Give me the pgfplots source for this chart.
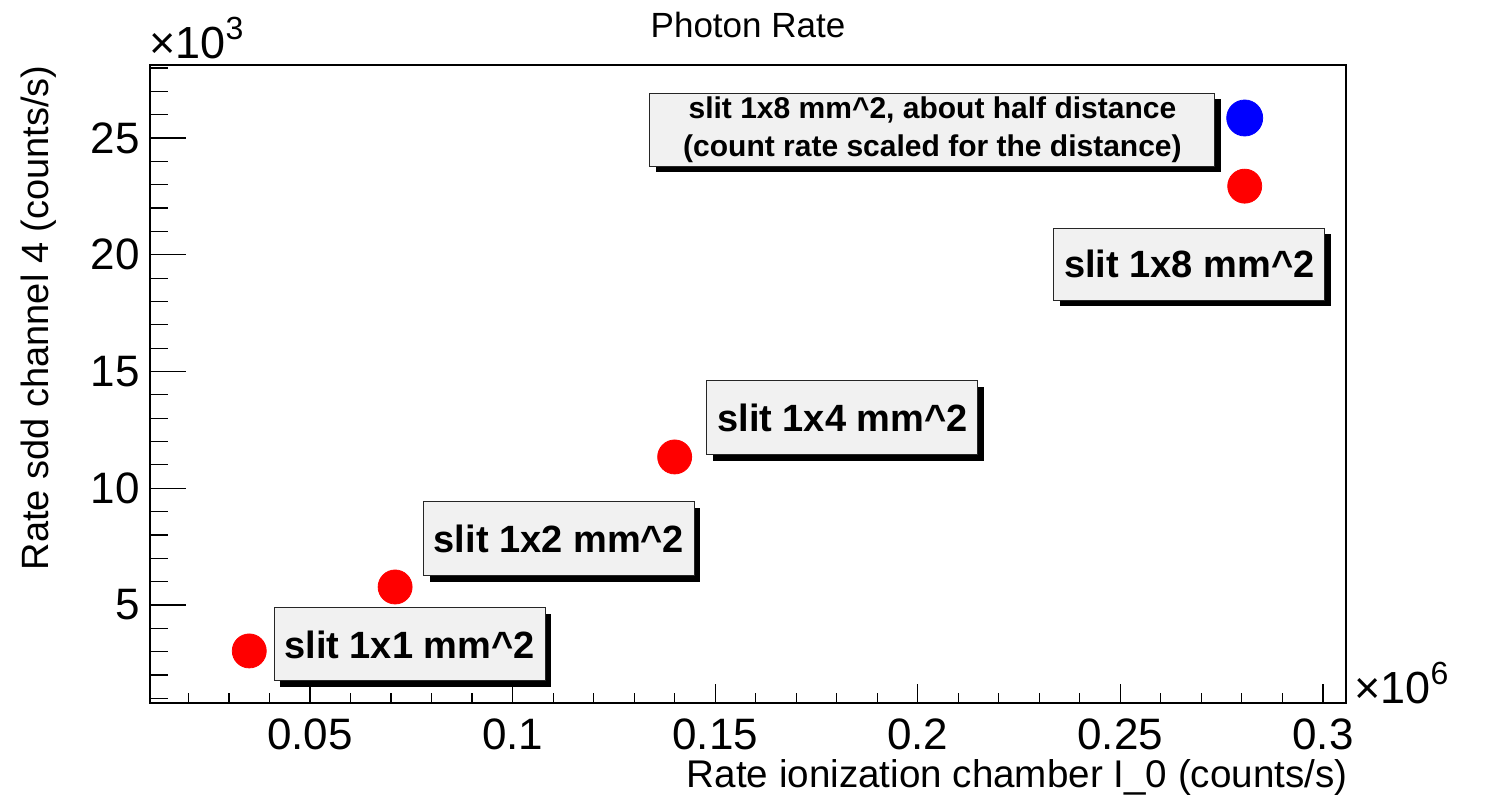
\documentclass[border=0pt]{standalone}
\usepackage{fontspec}
\setmainfont{Liberation Sans}
\usepackage{pgfplots}
\pgfplotsset{compat=1.18}
\usetikzlibrary{shadows}
\definecolor{boxfill}{RGB}{241,241,241}
\tikzset{rootbox/.style={draw=black!85, line width=0.5pt, fill=boxfill, inner sep=0pt, align=center,
    drop shadow={shadow xshift=3pt, shadow yshift=-3pt, fill=black, opacity=1}}}
\begin{document}
\begin{tikzpicture}
\useasboundingbox (-75pt,-50.5pt) rectangle (673pt,351.5pt);
\begin{axis}[
  at={(0pt,0pt)}, anchor=south west,
  scale only axis, width=598pt, height=319pt,
  xmin=0.0105, xmax=0.3057, ymin=0.8, ymax=28.13,
  clip=false,
  tick pos=left, tick align=inside,
  scaled ticks=false,
  xtick={0.05,0.1,0.15,0.2,0.25,0.3},
  xticklabels={0.05,0.1,0.15,0.2,0.25,0.3},
  minor xtick={0.02,0.03,0.04,0.06,0.07,0.08,0.09,0.11,0.12,0.13,0.14,0.16,0.17,0.18,0.19,0.21,0.22,0.23,0.24,0.26,0.27,0.28,0.29},
  ytick={5,10,15,20,25},
  yticklabels={5,10,15,20,25},
  minor ytick={1,2,3,4,6,7,8,9,11,12,13,14,16,17,18,19,21,22,23,24,26,27,28},
  xtick style={/pgfplots/major tick length=9.5pt, /pgfplots/minor tick length=5pt},
  ytick style={/pgfplots/major tick length=17.8pt, /pgfplots/minor tick length=9pt},
  every tick/.append style={black, line width=0.6pt},
  axis line style={black, line width=0.6pt},
  xticklabel style={font=\fontsize{22}{22}\selectfont, inner sep=0pt, yshift=-7.5pt},
  yticklabel style={font=\fontsize{22}{22}\selectfont, inner sep=0pt, xshift=-5pt},
]
\addplot[only marks, mark=*, mark size=8.5pt, draw=red, fill=red, mark options={draw=red, fill=red}]
  coordinates {(0.035,3.03) (0.071,5.77) (0.140,11.34) (0.2807,22.94)};
\addplot[only marks, mark=*, mark size=9pt, draw=blue, fill=blue, mark options={draw=blue, fill=blue}]
  coordinates {(0.2807,25.86)};
\node[rootbox, minimum width=135.5pt, minimum height=36.5pt, font=\fontsize{19}{19}\bfseries\selectfont]
  at (axis cs:0.07456,3.308) {slit 1x1 mm\textasciicircum 2};
\node[rootbox, minimum width=135pt, minimum height=37pt, font=\fontsize{19}{19}\bfseries\selectfont]
  at (axis cs:0.11145,7.827) {slit 1x2 mm\textasciicircum 2};
\node[rootbox, minimum width=135.5pt, minimum height=37pt, font=\fontsize{19}{19}\bfseries\selectfont]
  at (axis cs:0.18142,13.009) {slit 1x4 mm\textasciicircum 2};
\node[rootbox, minimum width=135.5pt, minimum height=36pt, font=\fontsize{19}{19}\bfseries\selectfont]
  at (axis cs:0.26705,19.604) {slit 1x8 mm\textasciicircum 2};
\node[rootbox, minimum width=282.5pt, minimum height=36.5pt, font=\fontsize{15}{19}\bfseries\selectfont]
  at (axis cs:0.20363,25.364) {slit 1x8 mm\textasciicircum 2, about half distance\\(count rate scaled for the distance)};
\end{axis}
\node[anchor=base, inner sep=0pt, font=\fontsize{17.5}{17.5}\selectfont] at (299pt,332.5pt) {Photon Rate};
\node[anchor=base east, inner sep=0pt, font=\fontsize{19.3}{19.3}\selectfont] at (599pt,-42pt) {Rate ionization chamber I\_0 (counts/s)};
\node[anchor=base east, rotate=90, inner sep=0pt, font=\fontsize{19}{19}\selectfont] at (-50.5pt,319pt) {Rate sdd channel 4  (counts/s)};
\node[anchor=base west, inner sep=0pt, font=\fontsize{22.5}{22.5}\selectfont] at (-0.5pt,322pt) {×10\raisebox{9.5pt}{\fontsize{16}{16}\selectfont 3}};
\node[anchor=base west, inner sep=0pt, font=\fontsize{22.5}{22.5}\selectfont] at (602pt,-0.5pt) {×10\raisebox{9.5pt}{\fontsize{16}{16}\selectfont 6}};
\end{tikzpicture}
\end{document}
